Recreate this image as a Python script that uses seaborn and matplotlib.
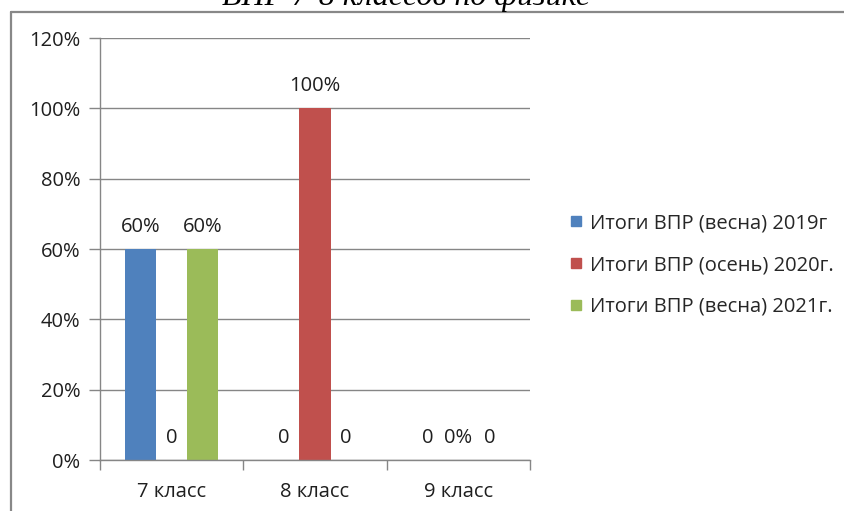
import matplotlib
matplotlib.use("Agg")
import matplotlib.pyplot as plt
from matplotlib.lines import Line2D
import seaborn as sns
import pandas as pd

# ---- data ----
categories = ["7 класс", "8 класс", "9 класс"]
series = ["Итоги ВПР (весна) 2019г", "Итоги ВПР (осень) 2020г.", "Итоги ВПР (весна) 2021г."]
values_2019 = [0.60, 0.0, 0.0]
values_2020 = [0.0, 1.00, 0.0]
values_2021 = [0.60, 0.0, 0.0]
labels_2019 = ["60%", "0", "0"]
labels_2020 = ["0", "100%", "0%"]
labels_2021 = ["60%", "0", "0"]
ytick_values = [0, 0.2, 0.4, 0.6, 0.8, 1.0, 1.2]
ytick_labels = ["0%", "20%", "40%", "60%", "80%", "100%", "120%"]
title_text = "ВПР 7-8 классов по физике"

colors = ["#4F81BD", "#C0504D", "#9BBB59"]

rows = []
for s, vals in zip(series, [values_2019, values_2020, values_2021]):
    for c, v in zip(categories, vals):
        rows.append({"Класс": c, "Серия": s, "Значение": v})
df = pd.DataFrame(rows)

sns.set_theme(style="white")
plt.rcParams["font.family"] = ["Open Sans", "DejaVu Sans"]

FS = 14.5
TXT = "#1f1f1f"

fig = plt.figure(figsize=(8.44, 5.11), dpi=100)
ax = fig.add_axes([100 / 844, 1 - 460 / 511, 430 / 844, 422 / 511])

sns.barplot(data=df, x="Класс", y="Значение", hue="Серия", hue_order=series,
            order=categories, palette=colors, width=0.65, dodge=True,
            saturation=1, ax=ax, legend=False, errorbar=None, linewidth=0)

gray = "#868686"
ax.set_ylim(0, 1.2)
ax.set_xlim(-0.5, 2.5)
ax.set_yticks(ytick_values)
ax.set_yticklabels(ytick_labels)
ax.yaxis.grid(True, color=gray, linewidth=1)
ax.set_axisbelow(True)
ax.set_xticks([-0.5, 0.5, 1.5, 2.5])
ax.set_xticklabels([])
ax.set_xticks([0, 1, 2], minor=True)
ax.set_xticklabels(categories, minor=True)
ax.tick_params(axis="x", which="major", length=7, color=gray, width=1, direction="out", bottom=True)
ax.tick_params(axis="x", which="minor", length=0, pad=16, labelsize=FS, labelcolor=TXT)
ax.tick_params(axis="y", length=8, color=gray, width=1, direction="out", left=True,
               labelsize=FS, labelcolor=TXT, pad=6)
ax.set_xlabel("")
ax.set_ylabel("")
for side in ["top", "right"]:
    ax.spines[side].set_visible(False)
for side in ["left", "bottom"]:
    ax.spines[side].set_visible(True)
    ax.spines[side].set_color(gray)
    ax.spines[side].set_linewidth(1)

for cont, labs in zip(ax.containers, [labels_2019, labels_2020, labels_2021]):
    for bar, lab in zip(cont, labs):
        x = bar.get_x() + bar.get_width() / 2
        y = bar.get_height()
        ax.annotate(lab, (x, y), xytext=(0, 16), textcoords="offset points",
                    ha="center", va="center", fontsize=FS, color=TXT)

handles = [Line2D([0], [0], marker="s", linestyle="", markersize=7.5,
                  markerfacecolor=c, markeredgecolor=c) for c in colors]
fig.legend(handles, series, loc="center left", bbox_to_anchor=(558 / 844, 1 - 265 / 511),
           frameon=False, fontsize=FS, handletextpad=0.2, labelspacing=1.07,
           handlelength=1.0, borderaxespad=0)

# page frame lines
fig.add_artist(Line2D([11 / 844, 1], [1 - 12 / 511, 1 - 12 / 511], transform=fig.transFigure,
                      color="#888888", linewidth=1.6))
fig.add_artist(Line2D([11 / 844, 11 / 844], [0, 1 - 12 / 511], transform=fig.transFigure,
                      color="#888888", linewidth=1.6))

fig.text(406 / 844, 1 - 5 / 511, title_text, ha="center", va="baseline",
         family="Liberation Serif", style="italic", fontsize=23, color="black")

fig.savefig("out.png", dpi=100)
